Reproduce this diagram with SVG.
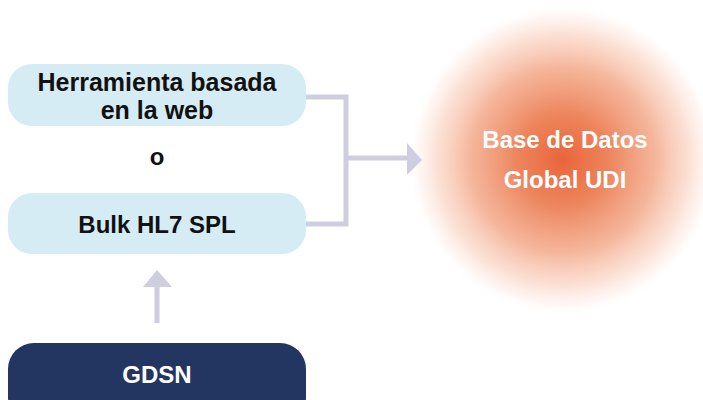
<svg xmlns="http://www.w3.org/2000/svg" width="703" height="400" viewBox="0 0 703 400">
<defs>
<radialGradient id="glow" cx="563" cy="160" r="155" gradientUnits="userSpaceOnUse">
<stop offset="0" stop-color="#e9643a"/>
<stop offset="0.3" stop-color="#ec7f55" stop-opacity="0.95"/>
<stop offset="0.6" stop-color="#f2a17f" stop-opacity="0.78"/>
<stop offset="0.82" stop-color="#f8c4ad" stop-opacity="0.5"/>
<stop offset="0.93" stop-color="#fbdccf" stop-opacity="0.25"/>
<stop offset="1" stop-color="#ffffff" stop-opacity="0"/>
</radialGradient>
</defs>
<style>
.box{fill:#d6ecf4}
.dark{fill:#233561}
.t{font-family:"Liberation Sans",Arial,sans-serif;font-weight:bold;text-anchor:middle}
.k{fill:#111111;font-size:24px}
.w{fill:#ffffff;font-size:24px}
.conn{fill:none;stroke:#cfcde0;stroke-width:5}
.head{fill:#cfcde0}
</style>
<rect width="703" height="400" fill="#ffffff"/>
<g id="node-db">
<circle cx="563" cy="160" r="155" fill="url(#glow)"/>
<text class="t w" x="565" y="148">Base de Datos</text>
<text class="t w" x="565" y="188">Global UDI</text>
</g>
<g id="connectors">
<polyline class="conn" points="306,97 346,97 346,224 306,224"/>
<line class="conn" x1="346" y1="158" x2="409" y2="158"/>
<polygon class="head" points="407,143 422,160 407,175"/>
<line class="conn" x1="157" y1="323" x2="157" y2="285"/>
<polygon class="head" points="143,287 157,270 172,287"/>
</g>
<g id="node-web">
<rect class="box" x="8" y="64" width="298" height="62" rx="24"/>
<text class="t k" x="157" y="91" style="font-size:25px">Herramienta basada</text>
<text class="t k" x="157" y="119" style="font-size:25px">en la web</text>
</g>
<g id="label-o">
<text class="t k" x="157" y="165">o</text>
</g>
<g id="node-bulk">
<rect class="box" x="8" y="193" width="298" height="61" rx="24"/>
<text class="t k" x="157" y="233">Bulk HL7 SPL</text>
</g>
<g id="node-gdsn">
<rect class="dark" x="8" y="343" width="298" height="80" rx="26"/>
<text class="t w" x="157" y="383">GDSN</text>
</g>
</svg>
